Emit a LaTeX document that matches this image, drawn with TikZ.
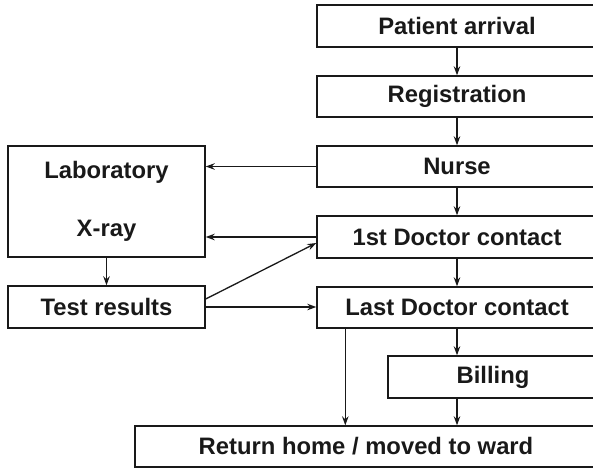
\documentclass[tikz,border=0pt]{standalone}
\usepackage{fontspec}
\setmainfont{Liberation Sans}
\usetikzlibrary{arrows.meta}
\begin{document}
\begin{tikzpicture}[x=1pt,y=-1pt,
  box/.style={draw=black!90, line width=1.4pt, rectangle, inner sep=0pt,
    font=\fontsize{23.8}{28}\selectfont\bfseries, text=black!90},
  flow/.style={line width=1.3pt, draw=black!90,
    -{Stealth[length=9pt,width=6.5pt,inset=3pt]}}]
\useasboundingbox (0,0) rectangle (593,468);
% main column
\node[box, minimum width=280pt, minimum height=42pt] (pa)   at (457,26)    {Patient arrival};
\node[box, minimum width=280pt, minimum height=41pt] (reg)  at (457,96.5)  {Registration};
\node[box, minimum width=280pt, minimum height=41pt] (nur)  at (457,166.5) {Nurse};
\node[box, minimum width=280pt, minimum height=42pt] (doc1) at (457,237)   {1st Doctor contact};
\node[box, minimum width=280pt, minimum height=41pt] (doc2) at (457,307.5) {Last Doctor contact};
\node[box, minimum width=210pt, minimum height=42pt] (bill) at (493,377)   {Billing};
\node[box, minimum width=462pt, minimum height=41pt] (ret)  at (366,446.5) {Return home / moved to ward};
% side column
\node[box, minimum width=197pt, minimum height=111pt, align=center] (lab) at (106.5,201.5)
  {Laboratory\\[30pt]X-ray};
\node[box, minimum width=197pt, minimum height=42pt] (test) at (106.5,307) {Test results};
% connectors
\draw[flow] (pa) -- (reg);
\draw[flow] (reg) -- (nur);
\draw[flow] (nur) -- (doc1);
\draw[flow] (doc1) -- (doc2);
\draw[flow] (nur.west) -- (nur.west -| lab.east);
\draw[flow] (doc1.west) -- (doc1.west -| lab.east);
\draw[flow] (lab) -- (test);
\draw[flow] ([yshift=8pt]test.east) -- ([yshift=-6pt]doc1.west);
\draw[flow] (test.east) -- (test.east -| doc2.west);
\draw[flow] (doc2.south) -- (doc2.south |- bill.north);
\draw[flow] (doc2.south |- bill.south) -- (doc2.south |- ret.north);
\draw[flow] ([xshift=29pt]doc2.south west) -- ([xshift=29pt]doc2.south west |- ret.north);
\end{tikzpicture}
\end{document}
